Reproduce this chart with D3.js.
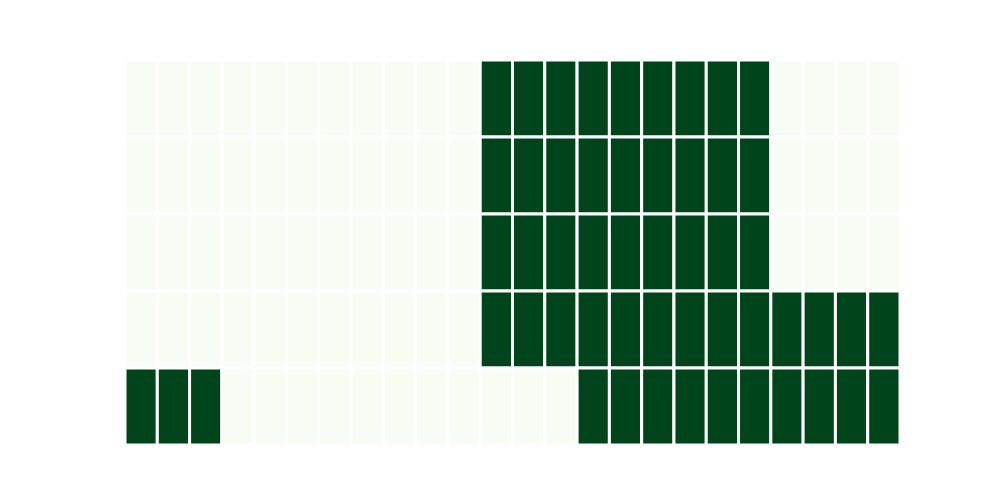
<!DOCTYPE html>
<html>
<head>
<meta charset="utf-8">
<script src="https://cdn.jsdelivr.net/npm/d3@7"></script>
<style>
  body { margin: 0; background: #fff; }
</style>
</head>
<body>
<div id="chart"></div>
<script>
var width = 1000,
    height = 500;

// 24 columns, 5 rows, values 0/1
var cols = d3.range(24);
var rows = d3.range(5);
var row0 = [0,0,0,0,0,0,0,0,0,0,0,1,1,1,1,1,1,1,1,1,0,0,0,0];
var row1 = [0,0,0,0,0,0,0,0,0,0,0,1,1,1,1,1,1,1,1,1,0,0,0,0];
var row2 = [0,0,0,0,0,0,0,0,0,0,0,1,1,1,1,1,1,1,1,1,0,0,0,0];
var row3 = [0,0,0,0,0,0,0,0,0,0,0,1,1,1,1,1,1,1,1,1,1,1,1,1];
var row4 = [1,1,1,0,0,0,0,0,0,0,0,0,0,0,1,1,1,1,1,1,1,1,1,1];

var grid = [row0, row1, row2, row3, row4];
var cells = [];
grid.forEach(function(r, i) {
  r.forEach(function(v, j) { cells.push({row: i, col: j, value: v}); });
});

var margin = {top: 60, right: 100, bottom: 55, left: 125};

var svg = d3.select('#chart').append('svg')
  .attr('width', width)
  .attr('height', height);

var x = d3.scaleBand()
  .domain(cols)
  .range([margin.left, width - margin.right]);

var y = d3.scaleBand()
  .domain(rows)
  .range([margin.top, height - margin.bottom]);

var color = d3.scaleSequential(d3.interpolateGreens).domain([0, 1]);

svg.selectAll('rect.cell')
  .data(cells)
  .enter()
  .append('rect')
  .attr('class', 'cell')
  .attr('x', function(d) { return x(d.col); })
  .attr('y', function(d) { return y(d.row); })
  .attr('width', x.bandwidth())
  .attr('height', y.bandwidth())
  .attr('fill', function(d) { return color(d.value); })
  .attr('stroke', '#fff')
  .attr('stroke-width', 3);
</script>
</body>
</html>
